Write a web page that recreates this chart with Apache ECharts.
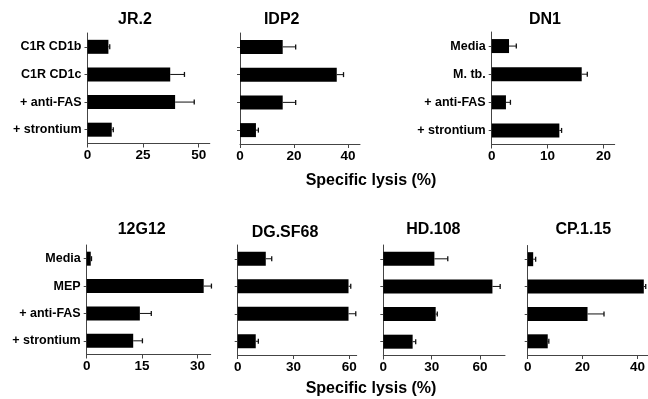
<!DOCTYPE html>
<html>
<head>
<meta charset="utf-8">
<script src="https://cdn.jsdelivr.net/npm/echarts@6/dist/echarts.min.js"></script>
<style>
html,body{margin:0;padding:0;background:#fff;}
#chart{width:648px;height:399px;}
</style>
</head>
<body>
<div id="chart"></div>
<script>
// ---- data ----
const panelTitles = ['JR.2', 'IDP2', 'DN1', '12G12', 'DG.SF68', 'HD.108', 'CP.1.15'];
const catsJR2 = ['C1R CD1b', 'C1R CD1c', '+ anti-FAS', '+ strontium'];
const catsDN1 = ['Media', 'M. tb.', '+ anti-FAS', '+ strontium'];
const catsMEP = ['Media', 'MEP', '+ anti-FAS', '+ strontium'];

const valsJR2 = [9.4, 37.2, 39.4, 10.9];
const errsJR2 = [0.6, 6.4, 8.6, 0.7];
const valsIDP2 = [15.8, 35.8, 15.8, 5.9];
const errsIDP2 = [4.8, 2.5, 4.8, 0.9];
const valsDN1 = [3.1, 16.1, 2.55, 12.1];
const errsDN1 = [1.3, 1.0, 0.8, 0.4];
const vals12G12 = [1.1, 31.7, 14.4, 12.6];
const errs12G12 = [0.2, 2.1, 3.1, 2.5];
const valsDGSF68 = [15.1, 59.6, 59.6, 9.7];
const errsDGSF68 = [3.2, 1.2, 3.9, 1.4];
const valsHD108 = [31.7, 67.7, 32.5, 18.2];
const errsHD108 = [8.3, 4.8, 1.0, 1.9];
const valsCP115 = [2.0, 42.3, 21.8, 7.3];
const errsCP115 = [0.9, 0.7, 6.0, 0.4];

const ticksJR2 = [0, 25, 50];
const ticksIDP2 = [0, 20, 40];
const ticksDN1 = [0, 10, 20];
const ticks12G12 = [0, 15, 30];
const ticksDGSF68 = [0, 30, 60];
const ticksHD108 = [0, 30, 60];
const ticksCP115 = [0, 20, 40];
const axisName = 'Specific lysis (%)';

// ---- layout (positions/styles) ----
const FONT = "'Liberation Sans', Arial, Helvetica, sans-serif";
const panels = [
  {cats: catsJR2, vals: valsJR2, errs: errsJR2, ticks: ticksJR2, max: 55, showLabels: true,
   grid: {left: 87.5, top: 33, width: 122.3, height: 110.5}},
  {cats: catsJR2, vals: valsIDP2, errs: errsIDP2, ticks: ticksIDP2, max: 44.4, showLabels: false,
   grid: {left: 240, top: 33, width: 120, height: 111}},
  {cats: catsDN1, vals: valsDN1, errs: errsDN1, ticks: ticksDN1, max: 22, showLabels: true,
   grid: {left: 491.7, top: 32, width: 123, height: 112.5}},
  {cats: catsMEP, vals: vals12G12, errs: errs12G12, ticks: ticks12G12, max: 33.6, showLabels: true,
   grid: {left: 86.7, top: 245, width: 124, height: 109.5}},
  {cats: catsMEP, vals: valsDGSF68, errs: errsDGSF68, ticks: ticksDGSF68, max: 64, showLabels: false,
   grid: {left: 237.7, top: 245, width: 119, height: 110}},
  {cats: catsMEP, vals: valsHD108, errs: errsHD108, ticks: ticksHD108, max: 75.5, showLabels: false,
   grid: {left: 383.3, top: 245, width: 121.7, height: 110.5}},
  {cats: catsMEP, vals: valsCP115, errs: errsCP115, ticks: ticksCP115, max: 43.7, showLabels: false,
   grid: {left: 527.7, top: 245.5, width: 120, height: 109.5}}
];
const titlePos = [[135, 12], [281.7, 12], [545, 12], [141.7, 222], [285, 225], [433.3, 222], [583.3, 222]];

const axisColor = '#444';
const grids = [], xAxes = [], yAxes = [], series = [], titles = [];

panels.forEach((p, i) => {
  grids.push(Object.assign({containLabel: false}, p.grid));
  xAxes.push({
    type: 'value', gridIndex: i, min: 0, max: p.max,
    splitLine: {show: false},
    axisLine: {show: true, lineStyle: {color: axisColor, width: 1}},
    axisTick: {show: true, length: 4, customValues: p.ticks, lineStyle: {color: axisColor}},
    axisLabel: {customValues: p.ticks, margin: 5, color: '#000', fontFamily: FONT,
                fontWeight: 'bold', fontSize: 13.5}
  });
  yAxes.push({
    type: 'category', gridIndex: i, data: p.cats, inverse: true,
    axisLine: {show: true, onZero: false, lineStyle: {color: axisColor, width: 1}},
    axisTick: {show: true, length: 3, alignWithLabel: true, lineStyle: {color: axisColor}},
    axisLabel: {show: p.showLabels, margin: 6, color: '#000', fontFamily: FONT,
                fontWeight: 'bold', fontSize: 12.5}
  });
  series.push({
    type: 'bar', xAxisIndex: i, yAxisIndex: i, data: p.vals, barWidth: 14,
    itemStyle: {color: '#000'}, silent: true, animation: false
  });
  series.push({
    type: 'custom', xAxisIndex: i, yAxisIndex: i, animation: false, silent: true, z: 5,
    encode: {x: 0, y: 1},
    data: p.vals.map((v, k) => [v, k, p.errs[k]]),
    renderItem: function (params, api) {
      const v = api.value(0), c = api.value(1), e = api.value(2);
      const a = api.coord([v, c]);
      const b = api.coord([v + e, c]);
      return {
        type: 'group',
        children: [
          {type: 'line', shape: {x1: a[0], y1: a[1], x2: b[0], y2: b[1]},
           style: {stroke: '#111', lineWidth: 1}},
          {type: 'line', shape: {x1: b[0], y1: b[1] - 2.5, x2: b[0], y2: b[1] + 2.5},
           style: {stroke: '#111', lineWidth: 1.3}}
        ]
      };
    }
  });
  titles.push({
    text: panelTitles[i], left: titlePos[i][0], top: titlePos[i][1], textAlign: 'center',
    textStyle: {fontFamily: FONT, fontWeight: 'bold', fontSize: 16, color: '#000'}
  });
});

titles.push({text: axisName, left: 371, top: 173, textAlign: 'center',
  textStyle: {fontFamily: FONT, fontWeight: 'bold', fontSize: 16, color: '#000'}});
titles.push({text: axisName, left: 371, top: 381, textAlign: 'center',
  textStyle: {fontFamily: FONT, fontWeight: 'bold', fontSize: 16, color: '#000'}});

const chart = echarts.init(document.getElementById('chart'), null, {renderer: 'canvas'});
chart.setOption({
  backgroundColor: '#fff',
  animation: false,
  title: titles.map(t => Object.assign({padding: 0}, t)),
  grid: grids,
  xAxis: xAxes,
  yAxis: yAxes,
  series: series
});
</script>
</body>
</html>
